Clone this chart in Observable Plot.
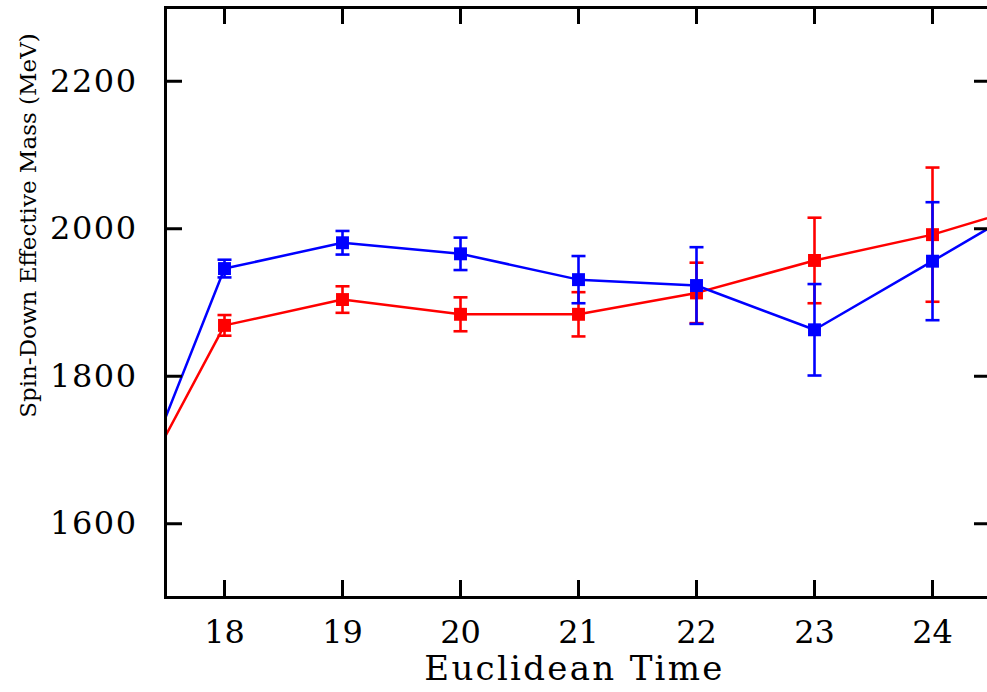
<!DOCTYPE html>
<html>
<head>
<meta charset="utf-8">
<script src="https://cdn.jsdelivr.net/npm/d3@7"></script>
<script src="https://cdn.jsdelivr.net/npm/@observablehq/plot@0.6"></script>
<style>
  html, body { margin: 0; padding: 0; background: #fff; }
  #chart svg { display: block; }
</style>
</head>
<body>
<div id="chart"></div>
<script>
// Effective mass per Euclidean time slice, two channels with statistical errors
const times = [18, 19, 20, 21, 22, 23, 24];
const blueMass = [1946, 1981, 1966, 1931, 1923, 1863, 1956];
const blueErr  = [12, 16, 22, 32, 52, 62, 80];
const redMass  = [1869, 1904, 1884, 1884, 1913, 1957, 1992];
const redErr   = [14, 18, 23, 30, 41, 58, 91];

// Neighbouring slices t = 17 and t = 25 fall outside the frame; only their connecting segments show
const edgeTimes = [17, 25];
const blueEdge = [1542, 2050];
const redEdge  = [1569, 2040];

const xTicks = [18, 19, 20, 21, 22, 23, 24];
const yTicks = [1600, 1800, 2000, 2200];

const xLabel = "Euclidean Time";
const yLabel = "Spin-Down Effective Mass (MeV)";

const W = 987, H = 692;
const mL = 165, mR = -4, mT = 7, mB = 95;
const plotW = W - mL - mR, plotH = H - mT - mB;
const tickLen = 17;
const font = "DejaVu Serif";

const points = (mass, err) => times.map((t, i) => ({t, m: mass[i], lo: mass[i] - err[i], hi: mass[i] + err[i]}));
const path = (mass, edge) => [
  {t: edgeTimes[0], m: edge[0]},
  ...times.map((t, i) => ({t, m: mass[i]})),
  {t: edgeTimes[1], m: edge[1]}
];

// horizontal bar used as an error-bar cap
const cap = {draw(ctx, size) { const w = Math.sqrt(size / Math.PI); ctx.moveTo(-w, 0); ctx.lineTo(w, 0); }};

function series(mass, err, edge, color) {
  const pts = points(mass, err);
  return [
    Plot.line(path(mass, edge), {x: "t", y: "m", stroke: color, strokeWidth: 2.5, clip: true}),
    Plot.ruleX(pts, {x: "t", y1: "lo", y2: "hi", stroke: color, strokeWidth: 2.6}),
    Plot.dot(pts, {x: "t", y: "lo", symbol: cap, r: 7, fill: "none", stroke: color, strokeWidth: 2.6}),
    Plot.dot(pts, {x: "t", y: "hi", symbol: cap, r: 7, fill: "none", stroke: color, strokeWidth: 2.6}),
    Plot.dot(pts, {x: "t", y: "m", symbol: "square", r: 7.3, fill: color, stroke: null})
  ];
}

const chart = Plot.plot({
  width: W,
  height: H,
  marginLeft: mL,
  marginRight: mR,
  marginTop: mT,
  marginBottom: mB,
  style: {fontFamily: font, fontSize: "32px", color: "black", background: "white"},
  x: {domain: [17.5, 24.5]},
  y: {domain: [1500, 2300]},
  marks: [
    ...series(redMass, redErr, redEdge, "#ff0000"),
    ...series(blueMass, blueErr, blueEdge, "#0000ff"),
    // inward ticks on all four sides
    Plot.tickX(xTicks, {x: d => d, insetTop: plotH - tickLen, stroke: "black", strokeWidth: 3}),
    Plot.tickX(xTicks, {x: d => d, insetBottom: plotH - tickLen, stroke: "black", strokeWidth: 3}),
    Plot.tickY(yTicks, {y: d => d, insetRight: plotW - tickLen, stroke: "black", strokeWidth: 3}),
    Plot.tickY(yTicks, {y: d => d, insetLeft: plotW - tickLen, stroke: "black", strokeWidth: 3}),
    Plot.frame({stroke: "black", strokeWidth: 3}),
    Plot.axisX({ticks: xTicks, tickSize: 0, tickPadding: 23, tickFormat: d => String(d), label: null, fontSize: 32, fontFamily: font}),
    Plot.axisY({ticks: yTicks, tickSize: 0, tickPadding: 28, tickFormat: d => String(d), label: null, fontSize: 32, fontFamily: font}),
    Plot.text([xLabel], {text: d => d, frameAnchor: "bottom", textAnchor: "middle", lineAnchor: "middle", dx: -4, dy: 72, fontSize: 34, fontFamily: font, fill: "black"}),
    Plot.text([yLabel], {text: d => d, frameAnchor: "left", textAnchor: "middle", lineAnchor: "middle", rotate: -90, dx: -137, dy: -77, fontSize: 23, fontFamily: font, fill: "black"})
  ]
});

// wider letter spacing for the typewriter-like axis texts
const svg = d3.select(chart);
svg.selectAll("text").filter(function() { return this.textContent === xLabel; }).style("letter-spacing", "2.3px");
svg.selectAll("text").filter(function() { return /^\d{4}$/.test(this.textContent); }).style("letter-spacing", "1.5px");

document.getElementById("chart").append(chart);
</script>
</body>
</html>
